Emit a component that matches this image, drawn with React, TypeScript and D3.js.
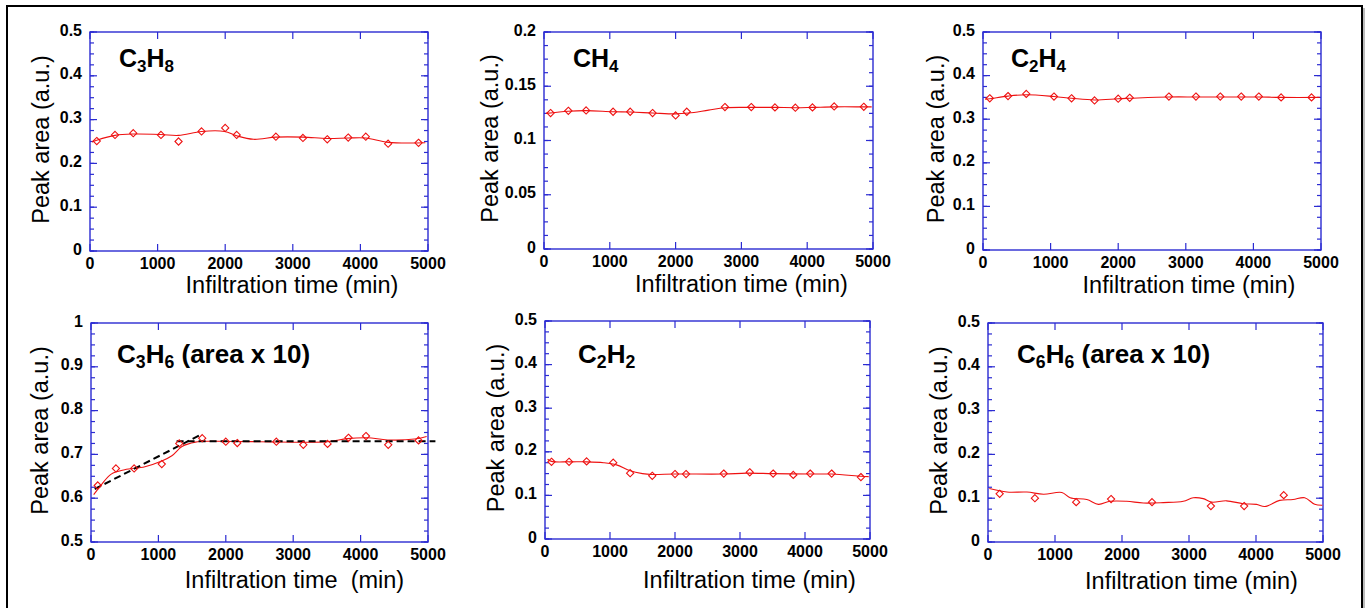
import React from 'react';
import * as d3 from 'd3';

const FONT = '"Liberation Sans", Arial, Helvetica, sans-serif';
const RED = '#ee1111';
const BLUE = '#2b2bd2';

// ---------- data ----------
const times = [100, 370, 640, 1050, 1310, 1650, 2000, 2170, 2750, 3150, 3510, 3820, 4080, 4410, 4860];
const xTicks = [0, 1000, 2000, 3000, 4000, 5000];

const yTicks05 = [0, 0.1, 0.2, 0.3, 0.4, 0.5];
const yTicksCH4 = [0, 0.05, 0.1, 0.15, 0.2];
const yTicksC3H6 = [0.5, 0.6, 0.7, 0.8, 0.9, 1];

const c3h8 = [0.251, 0.265, 0.269, 0.265, 0.25, 0.273, 0.281, 0.265, 0.261, 0.258, 0.255, 0.259, 0.261, 0.245, 0.247];
const c3h8Fit: [number, number][] = [[30, 0.249], [100, 0.253], [370, 0.264], [640, 0.267], [1050, 0.266], [1310, 0.264], [1650, 0.273], [1990, 0.273], [2170, 0.263], [2420, 0.255], [2750, 0.26], [3150, 0.26], [3510, 0.257], [3820, 0.258], [4080, 0.258], [4410, 0.248], [4960, 0.247]];

const ch4 = [0.1253, 0.1274, 0.1277, 0.1265, 0.1265, 0.1253, 0.1231, 0.1265, 0.1308, 0.1308, 0.1305, 0.1302, 0.1305, 0.1314, 0.1311];
const ch4Fit: [number, number][] = [[30, 0.125], [370, 0.127], [640, 0.1275], [1050, 0.1265], [1310, 0.1262], [1650, 0.1253], [2000, 0.1245], [2200, 0.1253], [2500, 0.128], [2750, 0.1302], [3150, 0.1305], [3510, 0.1305], [3820, 0.1302], [4080, 0.1305], [4410, 0.131], [4860, 0.131], [4980, 0.131]];

const c2h4 = [0.348, 0.353, 0.358, 0.352, 0.348, 0.343, 0.347, 0.349, 0.352, 0.352, 0.352, 0.352, 0.352, 0.35, 0.35];
const c2h4Fit: [number, number][] = [[30, 0.346], [100, 0.347], [370, 0.353], [640, 0.356], [1050, 0.352], [1310, 0.348], [1650, 0.344], [2000, 0.347], [2170, 0.348], [2750, 0.351], [3150, 0.351], [3510, 0.351], [3820, 0.351], [4080, 0.351], [4410, 0.35], [4980, 0.35]];

const c3h6 = [0.629, 0.668, 0.668, 0.678, 0.725, 0.737, 0.729, 0.726, 0.729, 0.722, 0.724, 0.738, 0.742, 0.722, 0.732];
const c3h6Fit: [number, number][] = [[40, 0.608], [150, 0.63], [300, 0.655], [500, 0.665], [800, 0.672], [1050, 0.685], [1200, 0.697], [1350, 0.718], [1550, 0.728], [1800, 0.73], [2500, 0.729], [3500, 0.729], [3800, 0.736], [4100, 0.738], [4400, 0.733], [4800, 0.735], [4980, 0.741]];
const c3h6Dash1: [number, number][] = [[55, 0.621], [1650, 0.7466]];
const c3h6Dash2: [number, number][] = [[1270, 0.73], [5110, 0.73]];

const c2h2 = [0.177, 0.177, 0.178, 0.175, 0.151, 0.145, 0.149, 0.149, 0.15, 0.153, 0.15, 0.147, 0.15, 0.15, 0.142];
const c2h2Fit: [number, number][] = [[40, 0.183], [100, 0.178], [370, 0.177], [640, 0.177], [900, 0.175], [1100, 0.17], [1300, 0.157], [1500, 0.15], [1650, 0.148], [2000, 0.149], [2750, 0.149], [3100, 0.151], [3510, 0.15], [4080, 0.149], [4410, 0.149], [4860, 0.144], [4980, 0.143]];

const c6h6Times = [174, 700, 1316, 1837, 2448, 3327, 3823, 4414];
const c6h6 = [0.11, 0.1, 0.091, 0.098, 0.091, 0.082, 0.082, 0.107];
const c6h6Fit: [number, number][] = [[20, 0.122], [283, 0.114], [580, 0.114], [829, 0.109], [1102, 0.113], [1226, 0.101], [1475, 0.097], [1649, 0.086], [1822, 0.093], [2070, 0.093], [2319, 0.089], [2617, 0.09], [2915, 0.093], [3063, 0.101], [3212, 0.099], [3337, 0.091], [3560, 0.094], [3808, 0.0875], [4007, 0.086], [4131, 0.081], [4354, 0.095], [4553, 0.097], [4727, 0.101], [4876, 0.086], [4990, 0.084]];

// titles: [text, isSubscript]
const titleC3H8: [string, boolean][] = [['C', false], ['3', true], ['H', false], ['8', true]];
const titleCH4: [string, boolean][] = [['CH', false], ['4', true]];
const titleC2H4: [string, boolean][] = [['C', false], ['2', true], ['H', false], ['4', true]];
const titleC3H6: [string, boolean][] = [['C', false], ['3', true], ['H', false], ['6', true], [' (area x 10)', false]];
const titleC2H2: [string, boolean][] = [['C', false], ['2', true], ['H', false], ['2', true]];
const titleC6H6: [string, boolean][] = [['C', false], ['6', true], ['H', false], ['6', true], [' (area x 10)', false]];

const yLabel = 'Peak area (a.u.)';
const xLabel = 'Infiltration time (min)';
const xLabelWide = 'Infiltration time  (min)';

// ---------- panel ----------
type PanelProps = {
  box: { x0: number; x1: number; y0: number; y1: number };
  yTicks: number[];
  minorStep: number;
  xs: number[];
  ys: number[];
  fit: [number, number][];
  dashed?: [number, number][][];
  title: [string, boolean][];
  titlePos: [number, number];
  titleSize: number;
  xLabelText: string;
  xLabelDx: number;
  xLabelY: number;
  yLabelX: number;
};

function Panel(p: PanelProps) {
  const { box } = p;
  const x = d3.scaleLinear().domain([0, 5000]).range([box.x0, box.x1]);
  const yd = [p.yTicks[0], p.yTicks[p.yTicks.length - 1]];
  const y = d3.scaleLinear().domain(yd).range([box.y1, box.y0]);
  const nMinor = Math.round((yd[1] - yd[0]) / p.minorStep);
  const minors = d3.range(nMinor + 1).map((i) => yd[0] + i * p.minorStep);
  const line = d3.line<[number, number]>().x((d) => x(d[0])).y((d) => y(d[1])).curve(d3.curveCatmullRom.alpha(0.5));
  const straight = d3.line<[number, number]>().x((d) => x(d[0])).y((d) => y(d[1]));
  const MAJ = 7;
  const MIN = 4;
  const r = 3.6;
  const cx = (box.x0 + box.x1) / 2;
  const cy = (box.y0 + box.y1) / 2;
  return (
    <g>
      {minors.map((v, i) => (
        <g key={'mn' + i} stroke={BLUE} strokeWidth={1.2}>
          <line x1={box.x0} x2={box.x0 + MIN} y1={y(v)} y2={y(v)} />
          <line x1={box.x1} x2={box.x1 - MIN} y1={y(v)} y2={y(v)} />
        </g>
      ))}
      {p.yTicks.map((v, i) => (
        <g key={'my' + i}>
          <line x1={box.x0} x2={box.x0 + MAJ} y1={y(v)} y2={y(v)} stroke={BLUE} strokeWidth={1.2} />
          <line x1={box.x1} x2={box.x1 - MAJ} y1={y(v)} y2={y(v)} stroke={BLUE} strokeWidth={1.2} />
          <text x={box.x0 - 8} y={y(v) + 3.5} textAnchor="end" fontFamily={FONT} fontWeight="bold" fontSize={16} fill="#000">
            {String(+v.toFixed(4))}
          </text>
        </g>
      ))}
      {xTicks.map((v, i) => (
        <g key={'mx' + i}>
          <line x1={x(v)} x2={x(v)} y1={box.y1} y2={box.y1 - MAJ} stroke={BLUE} strokeWidth={1.2} />
          <line x1={x(v)} x2={x(v)} y1={box.y0} y2={box.y0 + MAJ} stroke={BLUE} strokeWidth={1.2} />
          <text x={x(v)} y={box.y1 + 18} textAnchor="middle" fontFamily={FONT} fontWeight="bold" fontSize={16} fill="#000">
            {String(v)}
          </text>
        </g>
      ))}
      <rect x={box.x0} y={box.y0} width={box.x1 - box.x0} height={box.y1 - box.y0} fill="none" stroke={BLUE} strokeWidth={1.4} />
      <path d={line(p.fit) || ''} fill="none" stroke={RED} strokeWidth={1.1} />
      {p.dashed &&
        p.dashed.map((seg, i) => (
          <path key={'d' + i} d={straight(seg) || ''} fill="none" stroke="#000" strokeWidth={2} strokeDasharray="7,4" />
        ))}
      {p.xs.map((t, i) => {
        const px = x(t);
        const py = y(p.ys[i]);
        return (
          <path
            key={'pt' + i}
            d={`M${px},${py - r}L${px + r},${py}L${px},${py + r}L${px - r},${py}Z`}
            fill="none"
            stroke={RED}
            strokeWidth={1.1}
          />
        );
      })}
      <text x={p.titlePos[0]} y={p.titlePos[1]} fontFamily={FONT} fontWeight="bold" fontSize={p.titleSize} fill="#000" style={{ whiteSpace: 'pre' }}>
        {(() => {
          let prevSub = false;
          return p.title.map(([s, sub], i) => {
            let dy = 0;
            if (sub && !prevSub) dy = 5;
            if (!sub && prevSub) dy = -5;
            prevSub = sub;
            return (
              <tspan key={i} dy={dy} fontSize={sub ? p.titleSize * 0.68 : p.titleSize}>
                {s}
              </tspan>
            );
          });
        })()}
      </text>
      <text x={cx + p.xLabelDx} y={p.xLabelY} textAnchor="middle" fontFamily={FONT} fontSize={23.5} fill="#000" style={{ whiteSpace: 'pre' }}>
        {p.xLabelText}
      </text>
      <text
        transform={`translate(${p.yLabelX},${cy - 2}) rotate(-90)`}
        textAnchor="middle"
        fontFamily={FONT}
        fontSize={23.5}
        fill="#000"
      >
        {yLabel}
      </text>
    </g>
  );
}

export default function App() {
  return (
    <svg width={1367} height={608} style={{ position: 'absolute', left: 0, top: 0, background: '#fff' }}>
      <rect x={0} y={0} width={1367} height={608} fill="#fff" />
      <rect x={7} y={6} width={1355} height={700} fill="none" stroke="#000" strokeWidth={2} />
      <line x1={1364} x2={1364} y1={8} y2={608} stroke="#bbb" strokeWidth={2} />

      <Panel box={{ x0: 90, x1: 428, y0: 32, y1: 251 }} yTicks={yTicks05} minorStep={0.025} xs={times} ys={c3h8} fit={c3h8Fit}
        title={titleC3H8} titlePos={[119, 67]} titleSize={25} xLabelText={xLabel} xLabelDx={33} xLabelY={293} yLabelX={49} />
      <Panel box={{ x0: 544, x1: 873, y0: 32, y1: 249 }} yTicks={yTicksCH4} minorStep={0.0125} xs={times} ys={ch4} fit={ch4Fit}
        title={titleCH4} titlePos={[573, 67]} titleSize={25} xLabelText={xLabel} xLabelDx={33} xLabelY={292} yLabelX={498} />
      <Panel box={{ x0: 983, x1: 1321, y0: 32, y1: 250 }} yTicks={yTicks05} minorStep={0.025} xs={times} ys={c2h4} fit={c2h4Fit}
        title={titleC2H4} titlePos={[1011, 67]} titleSize={25} xLabelText={xLabel} xLabelDx={37} xLabelY={293} yLabelX={944} />
      <Panel box={{ x0: 91, x1: 428, y0: 323, y1: 542 }} yTicks={yTicksC3H6} minorStep={0.025} xs={times} ys={c3h6} fit={c3h6Fit}
        dashed={[c3h6Dash1, c3h6Dash2]}
        title={titleC3H6} titlePos={[117, 363]} titleSize={26} xLabelText={xLabelWide} xLabelDx={35} xLabelY={588} yLabelX={48} />
      <Panel box={{ x0: 545, x1: 870, y0: 321, y1: 539 }} yTicks={yTicks05} minorStep={0.025} xs={times} ys={c2h2} fit={c2h2Fit}
        title={titleC2H2} titlePos={[578, 363]} titleSize={26} xLabelText={xLabel} xLabelDx={42} xLabelY={588} yLabelX={504} />
      <Panel box={{ x0: 988, x1: 1323, y0: 323, y1: 542 }} yTicks={yTicks05} minorStep={0.025} xs={c6h6Times} ys={c6h6} fit={c6h6Fit}
        title={titleC6H6} titlePos={[1017, 363]} titleSize={26} xLabelText={xLabel} xLabelDx={36} xLabelY={589} yLabelX={947} />
    </svg>
  );
}
